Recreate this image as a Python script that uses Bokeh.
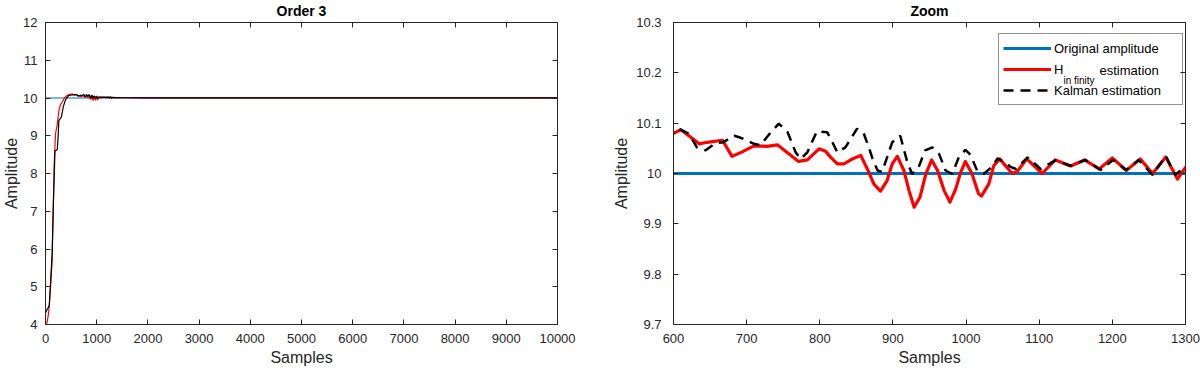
from bokeh.plotting import figure
from bokeh.layouts import row
from bokeh.models import (Range1d, LinearAxis, SingleIntervalTicker, CustomJSTickFormatter,
                          Legend, LegendItem, Label)
from bokeh.embed import file_html
from bokeh.resources import INLINE

FONT = "Liberation Sans"
TXT = "#262626"
BLUE = "#0072BD"
RED = "#FF0000"

# ---------------- data ----------------
orig_samples = [0, 10000]
orig_values = [10.0, 10.0]

hinf_samples = [0, 30, 60, 100, 130, 150, 170, 195, 230, 260, 290, 330, 360, 420, 470, 520, 560,
                600, 610, 621, 635, 646, 667, 680, 694, 710, 728, 742, 755, 771, 783, 799, 808,
                815, 824, 833, 846, 856, 865, 874, 883, 892, 899, 906, 915, 922, 929, 937, 945,
                953, 961, 970, 978, 986, 992, 999, 1008, 1017, 1021, 1031, 1038, 1046, 1063,
                1070, 1083, 1104, 1122, 1143, 1162, 1182, 1200, 1219, 1238, 1255, 1273, 1289,
                1300, 1500, 2000, 3000, 4000, 5000, 6000, 7000, 8000, 9000, 10000]
hinf_values = [4.0, 4.05, 4.3, 5.0, 5.7, 7.0, 8.25, 9.05, 9.3, 9.65, 9.82, 9.9, 9.98, 10.07, 10.09,
               10.11, 10.09,
               10.08, 10.087, 10.075, 10.059, 10.062, 10.066, 10.034, 10.043, 10.055, 10.054,
               10.057, 10.042, 10.024, 10.027, 10.049, 10.044,
               10.032, 10.019, 10.019, 10.03, 10.036, 10.009, 9.979, 9.965, 9.986, 10.019,
               10.034, 10.006, 9.966, 9.933, 9.953, 9.999, 10.027, 10.006, 9.966, 9.943, 9.97,
               10.0, 10.024, 10.0, 9.96, 9.955, 9.979, 10.016, 10.029, 10.0, 10.004, 10.029,
               10.0, 10.027, 10.015, 10.027, 10.009, 10.031, 10.006, 10.029, 10.0, 10.033,
               9.989, 10.012, 10.008, 10.004, 10.002, 10.003, 10.002, 10.003, 10.002, 10.003,
               10.002, 10.002]

kalman_samples = [0, 20, 75, 85, 130, 150, 185, 230, 250, 260, 312, 345, 390, 455, 520, 560,
                  600, 607, 621, 632, 644, 657, 668, 683, 692, 710, 719, 733, 744, 756, 767, 774,
                  783, 796, 810, 815, 824, 835, 851, 860, 867, 872, 879, 885, 892, 899, 910, 919,
                  926, 935, 944, 954, 963, 972, 981, 990, 999, 1006, 1015, 1024, 1036, 1043,
                  1056, 1061, 1068, 1084, 1102, 1122, 1143, 1163, 1184, 1201, 1219, 1236, 1255,
                  1273, 1286, 1300, 1500, 2000, 3000, 4000, 5000, 6000, 7000, 8000, 9000, 10000]
kalman_values = [4.3, 4.37, 4.5, 4.77, 5.9, 7.0, 8.6, 8.63, 9.05, 9.4, 9.5, 9.76, 9.95, 10.07,
                 10.08, 10.09,
                 10.08, 10.089, 10.079, 10.052, 10.046, 10.06, 10.062, 10.075, 10.071, 10.059,
                 10.056, 10.082, 10.099, 10.082, 10.042, 10.029, 10.042, 10.084, 10.082, 10.069,
                 10.042, 10.052, 10.089, 10.08, 10.052, 10.03, 10.006, 10.003, 10.032, 10.062,
                 10.075, 10.026, 9.999, 10.012, 10.046, 10.052, 10.039, 10.006, 9.999, 10.032,
                 10.047, 10.037, 10.006, 9.999, 10.014, 10.03, 10.019, 10.013, 10.009, 10.032,
                 10.009, 10.026, 10.015, 10.027, 10.007, 10.027, 10.007, 10.027, 9.997, 10.035,
                 9.997, 10.015,
                 10.006, 10.003, 10.001, 10.002, 10.001, 10.002, 10.001, 10.002, 10.001, 10.001]

left_title = "Order 3"
right_title = "Zoom"
x_label = "Samples"
y_label = "Amplitude"
legend_labels = ["Original amplitude", "H", "Kalman estimation"]
hinf_sub = "in finity"
hinf_rest = "estimation"

FW, FH = 512, 302

fmt_code = "return String(Math.round(tick*10)/10);"


def style_axis(ax, label_size="13px"):
    ax.major_tick_in = 5
    ax.major_tick_out = 0
    ax.minor_tick_line_color = None
    ax.axis_line_color = TXT
    ax.major_tick_line_color = TXT
    ax.major_label_text_font = FONT
    ax.major_label_text_font_size = label_size
    ax.major_label_text_color = TXT
    ax.axis_label_text_font = FONT
    ax.axis_label_text_font_size = "16px"
    ax.axis_label_text_font_style = "normal"
    ax.axis_label_text_color = TXT


def make_fig(xr, yr, xint, yint, bl, br, title, ylab_standoff, tick_standoff):
    p = figure(frame_width=FW, frame_height=FH,
               x_range=Range1d(*xr), y_range=Range1d(*yr),
               min_border_left=bl, min_border_right=br, min_border_top=22, min_border_bottom=49,
               output_backend="svg", toolbar_location=None,
               background_fill_color="white", border_fill_color="white")
    p.grid.visible = False
    p.outline_line_color = TXT
    p.outline_line_width = 1
    p.title.text = title
    p.title.align = "center"
    p.title.text_font = FONT
    p.title.text_font_size = "14px"
    p.title.text_font_style = "bold"
    p.title.text_color = "black"
    p.title.standoff = 0
    xa = p.below[0]
    ya = p.left[0]
    xa.ticker = SingleIntervalTicker(interval=xint)
    ya.ticker = SingleIntervalTicker(interval=yint)
    xa.formatter = CustomJSTickFormatter(code=fmt_code)
    ya.formatter = CustomJSTickFormatter(code=fmt_code)
    xa.axis_label = x_label
    ya.axis_label = y_label
    style_axis(xa)
    style_axis(ya)
    xa.major_label_standoff = 5
    xa.axis_label_standoff = 3
    ya.major_label_standoff = tick_standoff
    ya.axis_label_standoff = ylab_standoff
    blank = CustomJSTickFormatter(code="return '';")
    ra = LinearAxis(ticker=SingleIntervalTicker(interval=yint), formatter=blank,
                    major_label_standoff=0)
    ta = LinearAxis(ticker=SingleIntervalTicker(interval=xint), formatter=blank,
                    major_label_standoff=0)
    style_axis(ra, "2px")
    style_axis(ta, "2px")
    p.add_layout(ra, "right")
    p.add_layout(ta, "above")
    return p


# ---------- left panel ----------
p1 = make_fig((0, 10000), (4, 12), 1000, 1, 45, 52, left_title, 0, 4)
p1.line(orig_samples, orig_values, line_color=BLUE, line_width=1.2)
p1.line(hinf_samples, hinf_values, line_color=RED, line_width=1.2)
p1.line(kalman_samples, kalman_values, line_color="black", line_width=1.2)

# ---------- right panel ----------
p2 = make_fig((600, 1300), (9.7, 10.3), 100, 0.1, 64, 15, right_title, 3, 8)
r_o = p2.line(orig_samples, orig_values, line_color=BLUE, line_width=3)
r_h = p2.line(hinf_samples, hinf_values, line_color=RED, line_width=3.2, line_join="round")
r_k = p2.line(kalman_samples, kalman_values, line_color="black", line_width=2.5,
              line_dash="10 7")

legend = Legend(items=[LegendItem(label=legend_labels[0], renderers=[r_o]),
                       LegendItem(label=legend_labels[1], renderers=[r_h]),
                       LegendItem(label=legend_labels[2], renderers=[r_k])],
                location=(325, 219), padding=4, spacing=1, label_height=20, glyph_height=20,
                glyph_width=48, label_standoff=3, label_width=124,
                label_text_font=FONT, label_text_font_size="13px", label_text_color="black",
                border_line_color=TXT, border_line_width=1,
                background_fill_color="white", background_fill_alpha=0.0, margin=0)
p2.add_layout(legend)
p2.add_layout(Label(x=390, y=244, x_units="screen", y_units="screen", text=hinf_sub,
                    text_align="left", text_baseline="middle", text_font=FONT,
                    text_font_size="10px", text_color="black", level="overlay"))
p2.add_layout(Label(x=426, y=254, x_units="screen", y_units="screen", text=hinf_rest,
                    text_align="left", text_baseline="middle", text_font=FONT,
                    text_font_size="13px", text_color="black", level="overlay"))

layout = row(p1, p2)
open("out.html", "w").write(file_html(layout, INLINE))
